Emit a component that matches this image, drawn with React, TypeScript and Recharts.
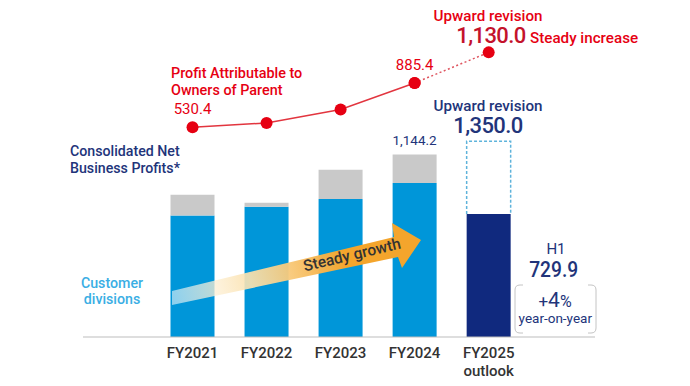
import React from 'react';
import { Bar, ComposedChart, LabelList, Line, XAxis, YAxis } from 'recharts';

// values in JPY 100 millions
const years = ['FY2021', 'FY2022', 'FY2023', 'FY2024', 'FY2025'];
const yearNotes = ['', '', '', '', 'outlook'];
const customerDivisions = [762, 816, 865, 965, 0];
const otherDivisions = [130, 25, 183, 179.2, 0];
const firstHalf = [0, 0, 0, 0, 771];
const outlookRest = [0, 0, 0, 0, 455];
const profitActual = [530.4, 566, 673, 885.4, null];
const profitOutlook = [null, null, null, 885.4, 1130];

const data = years.map((y, i) => ({
  year: y,
  note: yearNotes[i],
  customer: customerDivisions[i],
  other: otherDivisions[i],
  h1: firstHalf[i],
  rest: outlookRest[i],
  profit: profitActual[i],
  profitFc: profitOutlook[i],
}));

const RED = '#e60012';
const DARK_RED = '#c4122b';
const NAVY = '#22347a';
const FONT = 'Roboto, "Noto Sans", sans-serif';

const fmt = (v: number) =>
  v.toLocaleString('en-US', { minimumFractionDigits: 1, maximumFractionDigits: 1 });

function YearTick(props: any) {
  const { x, y, payload, index } = props;
  const note = yearNotes[index];
  return (
    <g>
      <text x={x} y={y} dy={21} textAnchor="middle" fontSize={15} fontWeight={500} fill="#333">
        {payload.value}
      </text>
      {note && (
        <text x={x} y={y} dy={39} textAnchor="middle" fontSize={15} fontWeight={500} fill="#333">
          {note}
        </text>
      )}
    </g>
  );
}

function DashedBox(props: any) {
  const { x, y, width, height } = props;
  if (!height || height <= 0) return null;
  return (
    <path
      d={`M${x},${y + height} V${y} H${x + width} V${y + height}`}
      fill="none"
      stroke="#5eb3db"
      strokeWidth={1.5}
      strokeDasharray="3 2"
    />
  );
}

function ProfitLabel(props: any) {
  const { x, y, value, index } = props;
  if (index !== 0 && index !== 3) return null;
  return (
    <text x={x} y={y - 13} textAnchor="middle" fontSize={15} fill={RED}>
      {fmt(Number(value))}
    </text>
  );
}

function TotalLabel(props: any) {
  const { x, y, width, index } = props;
  if (index !== 3) return null;
  const total = customerDivisions[index] + otherDivisions[index];
  return (
    <text x={x + width / 2} y={y - 9} textAnchor="middle" fontSize={13.5} fill={NAVY}>
      {fmt(total)}
    </text>
  );
}

function Overlay() {
  return (
    <svg
      width={690}
      height={386}
      style={{ position: 'absolute', left: 0, top: 0, pointerEvents: 'none', fontFamily: FONT }}
    >
      <defs>
        <linearGradient id="growth" gradientUnits="userSpaceOnUse" x1={172} y1={300} x2={345} y2={255}>
          <stop offset="0" stopColor="#ffffff" stopOpacity={0.55} />
          <stop offset="0.45" stopColor="#fbe2b0" stopOpacity={0.92} />
          <stop offset="1" stopColor="#f4a52c" />
        </linearGradient>
      </defs>

      {/* red profit annotations */}
      <text x={171} y={77.5} fontSize={14.4} fontWeight={500} fill={RED}>Profit Attributable to</text>
      <text x={171} y={94.5} fontSize={14.4} fontWeight={500} fill={RED}>Owners of Parent</text>
      <text x={488} y={20.7} textAnchor="middle" fontSize={15.2} fontWeight={500} fill={RED}>Upward revision</text>
      <text x={491} y={42.7} textAnchor="middle" fontSize={22} fontWeight={500} letterSpacing={-0.6} fill={DARK_RED}>1,130.0</text>
      <text x={530} y={43.3} fontSize={15.2} fontWeight={500} fill={RED}>Steady increase</text>

      {/* navy business profit annotations */}
      <text x={70} y={156.3} fontSize={14.2} fontWeight={500} fill={NAVY}>Consolidated Net</text>
      <text x={70} y={172.7} fontSize={14.2} fontWeight={500} fill={NAVY}>Business Profits*</text>
      <text x={488} y={110.7} textAnchor="middle" fontSize={15.2} fontWeight={500} fill={NAVY}>Upward revision</text>
      <text x={488} y={133.3} textAnchor="middle" fontSize={22} fontWeight={500} letterSpacing={-0.6} fill={NAVY}>1,350.0</text>

      <text x={112} y={288} textAnchor="middle" fontSize={14.2} fontWeight={500} fill="#3aaee4">Customer</text>
      <text x={112} y={304.3} textAnchor="middle" fontSize={14.2} fontWeight={500} fill="#3aaee4">divisions</text>

      {/* growth arrow */}
      <polygon
        points="172,291 394,237 392,223 421,240 402,268 398,257 172,305"
        fill="url(#growth)"
      />
      <text
        x={352}
        y={260}
        textAnchor="middle"
        fontSize={15.5}
        fontWeight={500}
        fill="#333"
        transform="rotate(-13.5 352 255)"
      >
        Steady growth
      </text>

      {/* first half result */}
      <text x={556} y={254} textAnchor="middle" fontSize={15} fill={NAVY}>H1</text>
      <text x={553.7} y={277} textAnchor="middle" fontSize={22} fontWeight={500} fill={NAVY} textLength={49} lengthAdjust="spacingAndGlyphs">729.9</text>
      <path d="M523,285 H520 Q515,285 515,290 V328 Q515,333 520,333 H523" fill="none" stroke="#c4c4c4" />
      <path d="M588,285 H591 Q596,285 596,290 V328 Q596,333 591,333 H588" fill="none" stroke="#c4c4c4" />
      <text x={555} y={306.7} textAnchor="middle" fill={NAVY}>
        <tspan fontSize={17}>+</tspan>
        <tspan fontSize={21}>4</tspan>
        <tspan fontSize={16}>%</tspan>
      </text>
      <text x={555.3} y={323.3} textAnchor="middle" fontSize={13.5} fill={NAVY}>year-on-year</text>
    </svg>
  );
}

export default function App() {
  return (
    <div style={{ position: 'absolute', left: 0, top: 0, width: 690, height: 386, background: '#fff', fontFamily: FONT }}>
      <ComposedChart width={690} height={386} data={data} margin={{ top: 37, right: 95, bottom: 0, left: 83 }}>
        <XAxis
          dataKey="year"
          height={49}
          padding={{ left: 72.5, right: 69.3 }}
          axisLine={{ stroke: '#bdbdbd' }}
          tickLine={false}
          tickSize={0}
          tickMargin={0}
          tick={<YearTick />}
          interval={0}
        />
        <YAxis yAxisId="bar" hide domain={[0, 1880]} allowDataOverflow />
        <YAxis yAxisId="profit" hide domain={[-1145.8, 1252.9]} allowDataOverflow />
        <Bar yAxisId="bar" dataKey="customer" stackId="s" fill="#0096d9" barSize={44} isAnimationActive={false} />
        <Bar yAxisId="bar" dataKey="other" stackId="s" fill="#c9c9c9" barSize={44} isAnimationActive={false}>
          <LabelList dataKey="other" content={<TotalLabel />} />
        </Bar>
        <Bar yAxisId="bar" dataKey="h1" stackId="s" fill="#10297e" barSize={44} isAnimationActive={false} />
        <Bar yAxisId="bar" dataKey="rest" stackId="s" barSize={44} shape={<DashedBox />} isAnimationActive={false} />
        <Line
          yAxisId="profit"
          dataKey="profitFc"
          stroke="#df5560"
          strokeWidth={1.5}
          strokeDasharray="2 2.5"
          dot={{ r: 6, fill: RED, stroke: 'none' }}
          isAnimationActive={false}
        />
        <Line
          yAxisId="profit"
          dataKey="profit"
          stroke="#e2353f"
          strokeWidth={1.5}
          dot={{ r: 6, fill: RED, stroke: 'none' }}
          isAnimationActive={false}
        >
          <LabelList dataKey="profit" content={<ProfitLabel />} />
        </Line>
      </ComposedChart>
      <Overlay />
    </div>
  );
}
